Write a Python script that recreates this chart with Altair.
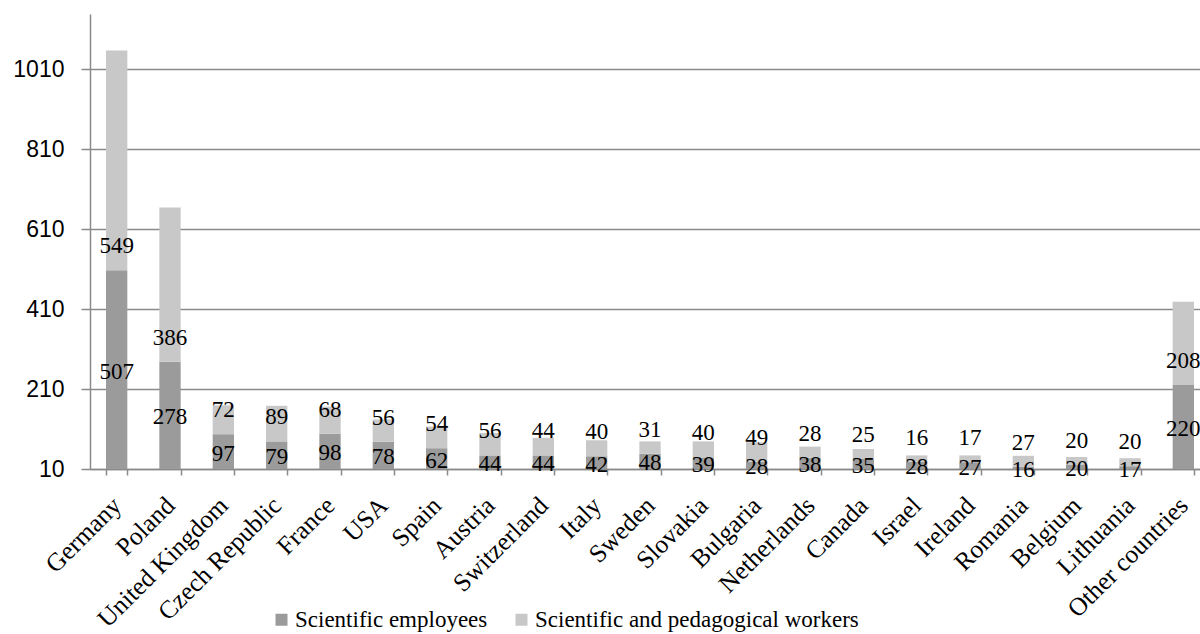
import altair as alt
import pandas as pd

countries = [
    "Germany", "Poland", "United Kingdom", "Czech Republic", "France", "USA",
    "Spain", "Austria", "Switzerland", "Italy", "Sweden", "Slovakia",
    "Bulgaria", "Netherlands", "Canada", "Israel", "Ireland", "Romania",
    "Belgium", "Lithuania", "Other countries",
]
scientific_employees = [507, 278, 97, 79, 98, 78, 62, 44, 44, 42, 48, 39,
                        28, 38, 35, 28, 27, 16, 20, 17, 220]
pedagogical_workers = [549, 386, 72, 89, 68, 56, 54, 56, 44, 40, 31, 40,
                       49, 28, 25, 16, 17, 27, 20, 20, 208]
series_names = ["Scientific employees", "Scientific and pedagogical workers"]
series_colors = ["#9b9b9b", "#c8c8c8"]
y_ticks = [10, 210, 410, 610, 810, 1010]

GRAY = "#8a8a8a"
SERIF = "Times New Roman"

rows = []
for c, a, b in zip(countries, scientific_employees, pedagogical_workers):
    rows.append({"country": c, "series": series_names[0], "value": a,
                 "start": 0, "end": a, "mid": a / 2})
    rows.append({"country": c, "series": series_names[1], "value": b,
                 "start": a, "end": a + b, "mid": a})
df = pd.DataFrame(rows)

x_enc = alt.X(
    "country:N", sort=countries, title=None,
    scale=alt.Scale(range=[0, 1120], paddingInner=0.6, paddingOuter=0.3),
    axis=alt.Axis(labelAngle=-45, labelAlign="right", labelBaseline="middle",
                  labelFont=SERIF, labelFontSize=25.5,
                  labelColor="black", labelPadding=26, tickSize=6,
                  labelLimit=0, labelOverlap=False,
                  tickBand="extent", tickColor=GRAY, domainColor=GRAY,
                  domainWidth=1.5, tickWidth=1.5, grid=False),
)
y_scale = alt.Scale(domain=[10, 1147.5], nice=False, zero=False)

bars = alt.Chart(df).mark_bar(clip=True).encode(
    x=x_enc,
    y=alt.Y("start:Q", scale=y_scale, title=None,
            axis=alt.Axis(values=y_ticks, format="d",
                          labelFont="Liberation Sans",
                          labelFontSize=23, labelColor="black",
                          labelPadding=17, tickSize=9, tickColor=GRAY,
                          tickWidth=1.5, domainColor=GRAY, domainWidth=1.5,
                          gridColor=GRAY, gridWidth=1.5)),
    y2="end:Q",
    color=alt.Color("series:N", sort=series_names,
                    scale=alt.Scale(domain=series_names, range=series_colors),
                    legend=alt.Legend(title=None, orient="none",
                                      direction="horizontal",
                                      legendX=180, legendY=594,
                                      symbolType="square", symbolSize=144,
                                      symbolStrokeWidth=0,
                                      labelFont=SERIF, labelLimit=0,
                                      labelFontSize=23, labelColor="black",
                                      labelOffset=2, columnPadding=22)),
)

low_labels = alt.Chart(df).transform_filter(
    alt.datum.series == series_names[0]
).mark_text(font=SERIF, fontSize=23, color="black",
            baseline="middle").encode(
    x=alt.X("country:N", sort=countries),
    y=alt.Y("mid:Q", scale=y_scale),
    text="value:Q",
)

high_labels = alt.Chart(df).transform_filter(
    alt.datum.series == series_names[1]
).mark_text(font=SERIF, fontSize=23, color="black",
            baseline="middle", dy=-24).encode(
    x=alt.X("country:N", sort=countries),
    y=alt.Y("mid:Q", scale=y_scale),
    text="value:Q",
)

chart = alt.layer(bars, low_labels, high_labels).properties(
    width=1110, height=455,
    autosize=alt.AutoSizeParams(type="none"),
    padding={"left": 90, "top": 14, "right": 0, "bottom": 165},
).configure_view(stroke=None).configure_text(font=SERIF)

chart.save("out.html", embed_options={"renderer": "svg", "actions": False})
